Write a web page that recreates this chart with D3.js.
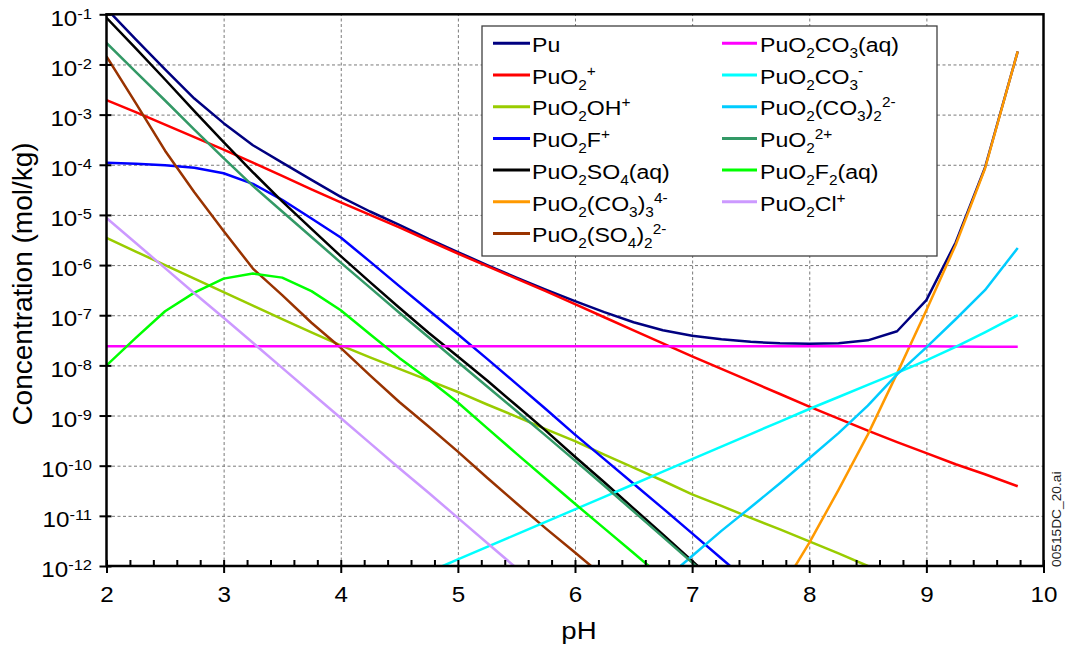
<!DOCTYPE html>
<html><head><meta charset="utf-8">
<script src="https://cdn.jsdelivr.net/npm/d3@7"></script>
<style>html,body{margin:0;padding:0;background:#fff;} svg{display:block;}</style>
</head><body><svg id="c" width="1066" height="646"></svg>
<script>
// ---------------- data ----------------
const pH = [2, 2.25, 2.5, 2.75, 3, 3.25, 3.5, 3.75, 4, 4.25, 4.5, 4.75, 5, 5.25, 5.5, 5.75,
            6, 6.25, 6.5, 6.75, 7, 7.25, 7.5, 7.75, 8, 8.25, 8.5, 8.75, 9, 9.25, 9.5, 9.78];

const cPu = [1.29e-1, 3.16e-2, 7.94e-3, 2.09e-3, 6.76e-4, 2.45e-4, 1.10e-4, 5.01e-5, 2.29e-5, 1.17e-5,
             6.31e-6, 3.31e-6, 1.82e-6, 1.00e-6, 5.62e-7, 3.24e-7, 1.91e-7, 1.15e-7, 7.24e-8, 5.01e-8,
             3.89e-8, 3.31e-8, 2.95e-8, 2.75e-8, 2.69e-8, 2.75e-8, 3.16e-8, 4.79e-8, 2.00e-7, 2.82e-6,
             8.71e-5, 1.82e-2];
const cPuO2p = [1.95e-3, 1.12e-3, 6.31e-4, 3.55e-4, 2.00e-4, 1.10e-4, 6.03e-5, 3.24e-5, 1.78e-5, 1.00e-5,
             5.62e-6, 3.09e-6, 1.70e-6, 9.55e-7, 5.37e-7, 3.02e-7, 1.66e-7, 9.12e-8, 5.01e-8, 2.75e-8,
             1.51e-8, 8.51e-9, 4.79e-9, 2.69e-9, 1.51e-9, 8.71e-10, 5.01e-10, 2.95e-10, 1.78e-10, 1.07e-10,
             6.76e-11, 3.89e-11];
const cPuO2OH = [3.47e-6, 1.86e-6, 1.00e-6, 5.37e-7, 2.88e-7, 1.55e-7, 8.32e-8, 4.57e-8, 2.51e-8, 1.45e-8,
             8.51e-9, 5.01e-9, 2.95e-9, 1.66e-9, 9.55e-10, 5.37e-10, 3.09e-10, 1.66e-10, 9.12e-11, 5.01e-11,
             2.69e-11, 1.58e-11, 9.12e-12, 5.37e-12, 3.09e-12, 1.78e-12, 1.00e-12, 5.62e-13, null, null,
             null, null];
const cPuO2F = [1.10e-4, 1.05e-4, 9.77e-5, 8.71e-5, 6.76e-5, 4.17e-5, 2.00e-5, 8.51e-6, 3.55e-6, 1.17e-6,
             3.80e-7, 1.26e-7, 4.17e-8, 1.35e-8, 4.27e-9, 1.35e-9, 4.17e-10, 1.35e-10, 4.37e-11, 1.41e-11,
             4.47e-12, 1.41e-12, 4.47e-13, null, null, null, null, null, null, null,
             null, null];
const cPuO2SO4 = [8.51e-2, 2.09e-2, 5.01e-3, 1.17e-3, 2.82e-4, 7.08e-5, 1.86e-5, 5.25e-6, 1.51e-6, 4.57e-7,
             1.41e-7, 4.47e-8, 1.51e-8, 5.01e-9, 1.58e-9, 5.01e-10, 1.51e-10, 4.68e-11, 1.41e-11, 4.27e-12,
             1.26e-12, 3.80e-13, null, null, null, null, null, null, null, null,
             null, null];
const cPuO2CO3_3 = [null, null, null, null, null, null, null, null, null, null,
             null, null, null, null, null, null, null, null, null, null,
             null, null, null, 3.16e-13, 2.88e-12, 3.31e-11, 4.17e-10, 6.92e-9, 1.26e-7, 2.51e-6,
             8.32e-5, 1.82e-2];
const cPuO2SO4_2 = [1.45e-2, 1.70e-3, 1.91e-4, 2.82e-5, 4.79e-6, 8.51e-7, 2.51e-7, 7.08e-8, 2.24e-8, 6.31e-9,
             1.86e-9, 6.03e-10, 1.91e-10, 5.75e-11, 1.78e-11, 5.62e-12, 1.86e-12, 6.03e-13, null, null,
             null, null, null, null, null, null, null, null, null, null,
             null, null];
const cPuO2CO3aq = [2.40e-8, 2.40e-8, 2.40e-8, 2.40e-8, 2.40e-8, 2.40e-8, 2.40e-8, 2.40e-8, 2.40e-8, 2.40e-8,
             2.40e-8, 2.40e-8, 2.40e-8, 2.40e-8, 2.40e-8, 2.40e-8, 2.40e-8, 2.40e-8, 2.40e-8, 2.40e-8,
             2.40e-8, 2.40e-8, 2.40e-8, 2.40e-8, 2.40e-8, 2.40e-8, 2.40e-8, 2.40e-8, 2.40e-8, 2.38e-8,
             2.36e-8, 2.34e-8];
const cPuO2CO3m = [null, null, null, null, null, null, null, null, null, null,
             null, 7.59e-13, 1.35e-12, 2.40e-12, 4.27e-12, 7.59e-12, 1.35e-11, 2.40e-11, 4.27e-11, 7.59e-11,
             1.35e-10, 2.40e-10, 4.27e-10, 7.59e-10, 1.35e-9, 2.34e-9, 4.07e-9, 7.08e-9, 1.26e-8, 2.34e-8,
             4.57e-8, 1.00e-7];
const cPuO2CO3_2 = [null, null, null, null, null, null, null, null, null, null,
             null, null, null, null, null, null, null, null, null, 5.01e-13,
             1.58e-12, 5.01e-12, 1.48e-11, 4.47e-11, 1.41e-10, 4.47e-10, 1.58e-9, 6.61e-9, 2.29e-8, 8.32e-8,
             3.16e-7, 2.19e-6];
const cPuO2_2p = [2.69e-2, 7.08e-3, 1.91e-3, 5.01e-4, 1.35e-4, 3.80e-5, 1.17e-5, 3.63e-6, 1.12e-6, 3.55e-7,
             1.12e-7, 3.63e-8, 1.17e-8, 3.80e-9, 1.23e-9, 3.98e-10, 1.26e-10, 3.98e-11, 1.23e-11, 3.80e-12,
             1.17e-12, 3.63e-13, null, null, null, null, null, null, null, null,
             null, null];
const cPuO2F2 = [1.00e-8, 3.55e-8, 1.20e-7, 2.82e-7, 5.37e-7, 6.76e-7, 5.62e-7, 3.02e-7, 1.26e-7, 4.17e-8,
             1.41e-8, 5.25e-9, 1.82e-9, 5.62e-10, 1.74e-10, 5.50e-11, 1.74e-11, 5.62e-12, 1.82e-12, 5.75e-13,
             null, null, null, null, null, null, null, null, null, null,
             null, null];
const cPuO2Cl = [8.71e-6, 2.75e-6, 8.71e-7, 2.75e-7, 8.91e-8, 2.82e-8, 8.91e-9, 2.82e-9, 8.91e-10, 2.82e-10,
             8.91e-11, 2.88e-11, 9.12e-12, 2.88e-12, 9.12e-13, null, null, null, null, null,
             null, null, null, null, null, null, null, null, null, null,
             null, null];

// legend labels: [text, "" | "sub" | "sup"]
const labels = [
  [["Pu",""]],
  [["PuO",""],["2","sub"],["+","sup"]],
  [["PuO",""],["2","sub"],["OH",""],["+","sup"]],
  [["PuO",""],["2","sub"],["F",""],["+","sup"]],
  [["PuO",""],["2","sub"],["SO",""],["4","sub"],["(aq)",""]],
  [["PuO",""],["2","sub"],["(CO",""],["3","sub"],[")",""],["3","sub"],["4-","sup"]],
  [["PuO",""],["2","sub"],["(SO",""],["4","sub"],[")",""],["2","sub"],["2-","sup"]],
  [["PuO",""],["2","sub"],["CO",""],["3","sub"],["(aq)",""]],
  [["PuO",""],["2","sub"],["CO",""],["3","sub"],["-","sup"]],
  [["PuO",""],["2","sub"],["(CO",""],["3","sub"],[")",""],["2","sub"],["2-","sup"]],
  [["PuO",""],["2","sub"],["2+","sup"]],
  [["PuO",""],["2","sub"],["F",""],["2","sub"],["(aq)",""]],
  [["PuO",""],["2","sub"],["Cl",""],["+","sup"]]
];
const seriesValues = [cPu, cPuO2p, cPuO2OH, cPuO2F, cPuO2SO4, cPuO2CO3_3, cPuO2SO4_2,
                      cPuO2CO3aq, cPuO2CO3m, cPuO2CO3_2, cPuO2_2p, cPuO2F2, cPuO2Cl];
const colors = ["#000080", "#ff0000", "#99cc00", "#0000ff", "#000000", "#ff9900", "#993300",
                "#ff00ff", "#00ffff", "#00ccff", "#339966", "#00ff00", "#cc99ff"];

const xTickValues = [2, 3, 4, 5, 6, 7, 8, 9, 10];
const yTickValues = [1e-1, 1e-2, 1e-3, 1e-4, 1e-5, 1e-6, 1e-7, 1e-8, 1e-9, 1e-10, 1e-11, 1e-12];
const yTickExponents = ["-1","-2","-3","-4","-5","-6","-7","-8","-9","-10","-11","-12"];
const xTitle = "pH";
const yTitle = "Concentration (mol/kg)";
const fileTag = "00515DC_20.ai";

// ---------------- drawing ----------------
const FONT = '"Liberation Sans", Arial, Helvetica, sans-serif';
const SX = 1.1; // horizontal glyph stretch of the reference
const X0 = 106.5, X1 = 1043.5, Y0 = 14.3, Y1 = 566;
const x = d3.scaleLinear().domain([2, 10]).range([X0, X1]);
const y = d3.scaleLog().domain([1e-12, 1e-1]).range([Y1, Y0]);
const svg = d3.select("#c").attr("font-family", FONT);

svg.append("rect").attr("width", 1066).attr("height", 646).attr("fill", "#fff");

// grid
svg.append("g").attr("transform", `translate(0,${Y1})`)
  .call(d3.axisBottom(x).tickValues(xTickValues.slice(1, -1)).tickSize(-(Y1 - Y0)).tickFormat(""))
  .call(g => { g.select(".domain").remove();
    g.selectAll("line").attr("stroke", "#7a7a7a").attr("stroke-width", 1).attr("stroke-dasharray", "3,2.5"); });
svg.append("g").attr("transform", `translate(${X0},0)`)
  .call(d3.axisLeft(y).tickValues(yTickValues.slice(1, -1)).tickSize(-(X1 - X0)).tickFormat(""))
  .call(g => { g.select(".domain").remove();
    g.selectAll("line").attr("stroke", "#7a7a7a").attr("stroke-width", 1).attr("stroke-dasharray", "3,2.5"); });

// clip
svg.append("clipPath").attr("id", "plotclip").append("rect")
  .attr("x", X0).attr("y", Y0).attr("width", X1 - X0).attr("height", Y1 - Y0);

const line = d3.line()
  .defined(d => d[1] != null)
  .x(d => x(d[0])).y(d => y(d[1]));

const plot = svg.append("g").attr("clip-path", "url(#plotclip)");
seriesValues.forEach((vals, i) => {
  plot.append("path")
    .datum(pH.map((p, j) => [p, vals[j]]))
    .attr("d", line)
    .attr("fill", "none")
    .attr("stroke", colors[i])
    .attr("stroke-width", 2.5)
    .attr("stroke-linejoin", "round");
});

// frame
svg.append("rect").attr("x", X0).attr("y", Y0).attr("width", X1 - X0).attr("height", Y1 - Y0)
  .attr("fill", "none").attr("stroke", "#000").attr("stroke-width", 2.5);

// x minor ticks (inward)
const xMinor = d3.range(2.2, 10, 0.2).filter(v => Math.abs(v - Math.round(v)) > 1e-6);
svg.append("g").attr("transform", `translate(0,${Y1})`)
  .call(d3.axisTop(x).tickValues(xMinor).tickSize(6).tickFormat(""))
  .call(g => { g.select(".domain").remove(); g.selectAll("line").attr("stroke", "#000").attr("stroke-width", 2); });

// x major ticks + labels
svg.append("g").attr("transform", `translate(0,${Y1})`)
  .call(d3.axisBottom(x).tickValues(xTickValues).tickSize(7).tickFormat(d3.format("d")))
  .call(g => {
    g.select(".domain").remove();
    g.selectAll("line").attr("stroke", "#000").attr("stroke-width", 2).attr("y1", -6);
    g.selectAll("text").attr("y", 0).attr("dy", 0)
      .attr("transform", `translate(0,35.5) scale(${SX},1)`)
      .attr("font-size", 22).attr("font-family", FONT).attr("fill", "#000");
  });

// y minor ticks (inward)
const yMinor = y.ticks().filter(v => !yTickValues.some(t => Math.abs(Math.log10(v) - Math.log10(t)) < 1e-6));
svg.append("g").attr("transform", `translate(${X0},0)`)
  .call(d3.axisRight(y).tickValues(yMinor).tickSize(8).tickFormat(""))
  .call(g => { g.select(".domain").remove(); g.selectAll("line").attr("stroke", "#000").attr("stroke-width", 1.5); });

// y major ticks + labels
svg.append("g").attr("transform", `translate(${X0},0)`)
  .call(d3.axisLeft(y).tickValues(yTickValues).tickSize(7).tickFormat(() => ""))
  .call(g => {
    g.select(".domain").remove();
    g.selectAll("line").attr("stroke", "#000").attr("stroke-width", 2).attr("x1", 5);
    g.selectAll("text").each(function(d) {
      const i = yTickValues.indexOf(d);
      const t = d3.select(this).text("").attr("x", 0).attr("y", 0).attr("dy", 0)
        .attr("transform", `translate(-14.5,10.7) scale(${SX},1)`)
        .attr("text-anchor", "end").attr("font-family", FONT).attr("fill", "#000");
      t.append("tspan").attr("font-size", 22).text("10");
      t.append("tspan").attr("font-size", 15).attr("dy", -7).text(yTickExponents[i]);
    });
  });

// axis titles
svg.append("text").attr("transform", `translate(579,638.5) scale(1.15,1)`)
  .attr("text-anchor", "middle").attr("font-size", 24).attr("fill", "#000").text(xTitle);
svg.append("text").attr("transform", "translate(32,284) rotate(-90)")
  .attr("text-anchor", "middle").attr("font-size", 28).attr("fill", "#000").text(yTitle);

// file tag
svg.append("text").attr("transform", `translate(1061,567) rotate(-90) scale(${SX},1)`)
  .attr("text-anchor", "start").attr("font-size", 12.5).attr("fill", "#222").text(fileTag);

// legend
const lg = svg.append("g");
lg.append("rect").attr("x", 482).attr("y", 26).attr("width", 455).attr("height", 230)
  .attr("fill", "#fff").attr("stroke", "#404040").attr("stroke-width", 1.3);
const rowY = i => 43.3 + i * 31.7;
labels.forEach((parts, i) => {
  const col = i < 7 ? 0 : 1;
  const row = col === 0 ? i : i - 7;
  const lx0 = col === 0 ? 493 : 722, lx1 = col === 0 ? 530 : 757;
  const tx = col === 0 ? 532 : 760;
  const yy = rowY(row);
  lg.append("line").attr("x1", lx0).attr("x2", lx1).attr("y1", yy).attr("y2", yy)
    .attr("stroke", colors[i]).attr("stroke-width", 3);
  const t = lg.append("text").attr("transform", `translate(${tx},${yy + 8.7}) scale(${SX},1)`)
    .attr("font-size", 21).attr("fill", "#000");
  let cur = 0;
  parts.forEach(([txt, mode]) => {
    const target = mode === "sub" ? 6 : mode === "sup" ? -8 : 0;
    t.append("tspan").attr("dy", target - cur).attr("font-size", mode ? 14 : 21).text(txt);
    cur = target;
  });
});
</script>
</body></html>
